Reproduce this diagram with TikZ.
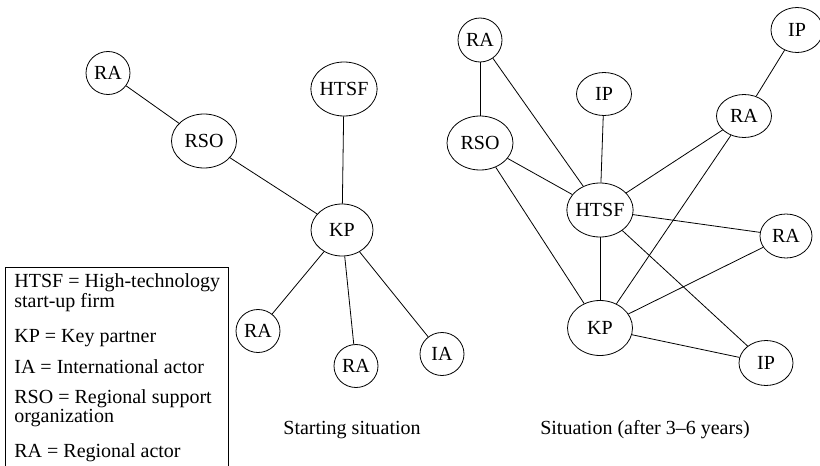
\documentclass[tikz,border=0pt]{standalone}
\usepackage{fontspec}
\setmainfont{Liberation Serif}
\usetikzlibrary{shapes.geometric}

\begin{document}
\begin{tikzpicture}[x=1pt,y=-1pt,line width=0.8pt,
	every node/.style={font=\fontsize{20}{23}\selectfont},
	smallnode/.style={ellipse,draw,inner sep=0pt,minimum width=44pt,minimum height=43pt},
	midnode/.style={ellipse,draw,inner sep=0pt,minimum width=55pt,minimum height=44pt},
	bignode/.style={ellipse,draw,inner sep=-1pt,minimum width=65pt,minimum height=54pt},
	legend/.style={anchor=base west,inner sep=0pt,align=left,font=\fontsize{20}{17}\selectfont}]
					\useasboundingbox (0,0) rectangle (820,466);
					% starting situation
					\path (108,73) node[smallnode] (v0) {RA};
					\path (204,141) node[bignode] (v1) {RSO};
					\path (344,89) node[bignode] (v2) {HTSF};
					\path (342,230) node[bignode,minimum width=62pt,minimum height=52pt] (v3) {KP};
					\path (258,331) node[smallnode] (v4) {RA};
					\path (356,366) node[smallnode] (v5) {RA};
					\path (442,354) node[smallnode] (v6) {IA};
					\draw (v0) -- (v1);
					\draw (v1) -- (v3);
					\draw (v2) -- (v3);
					\draw (v3) -- (v4);
					\draw (v3) -- (v5);
					\draw (v3) -- (v6);
					\path (352,434) node[anchor=base] (c0) {Starting situation};
					% after 3--6 years
					\path (480,40) node[smallnode,minimum height=44pt] (v7) {RA};
					\path (797,30) node[midnode,minimum width=52pt,minimum height=45pt] (v8) {IP};
					\path (604,94) node[midnode,minimum height=43pt] (v9) {IP};
					\path (744,116) node[midnode,minimum height=43pt] (v10) {RA};
					\path (480,143) node[bignode,minimum width=66pt] (v11) {RSO};
					\path (600,210) node[bignode] (v12) {HTSF};
					\path (786,236) node[midnode,minimum width=52pt] (v13) {RA};
					\path (600,328) node[bignode,minimum height=55pt] (v14) {KP};
					\path (766,363) node[midnode,minimum width=54pt,minimum height=45pt] (v15) {IP};
					\draw (v7) -- (v11);
					\draw (v7) -- (v12);
					\draw (v9) -- (v12);
					\draw (v8) -- (v10);
					\draw (v10) -- (v12);
					\draw (v10) -- (v14);
					\draw (v11) -- (v12);
					\draw (v11) -- (v14);
					\draw (v12) -- (v13);
					\draw (v12) -- (v14);
					\draw (v12) -- (v15);
					\draw (v14) -- (v13);
					\draw (v14) -- (v15);
					\path (645,434) node[anchor=base] (c1) {Situation (after 3--6 years)};
					% legend
					\draw (5,468) -- (5,267) -- (228,267) -- (228,468);
					\path (14,307) node[legend] (l0) {HTSF = High-technology\\start-up firm};
					\path (14,342) node[legend] (l1) {KP = Key partner};
					\path (14,373) node[legend] (l2) {IA = International actor};
					\path (14,422) node[legend] (l3) {RSO = Regional support\\organization};
					\path (14,457) node[legend] (l4) {RA = Regional actor};
\end{tikzpicture}
\end{document}
